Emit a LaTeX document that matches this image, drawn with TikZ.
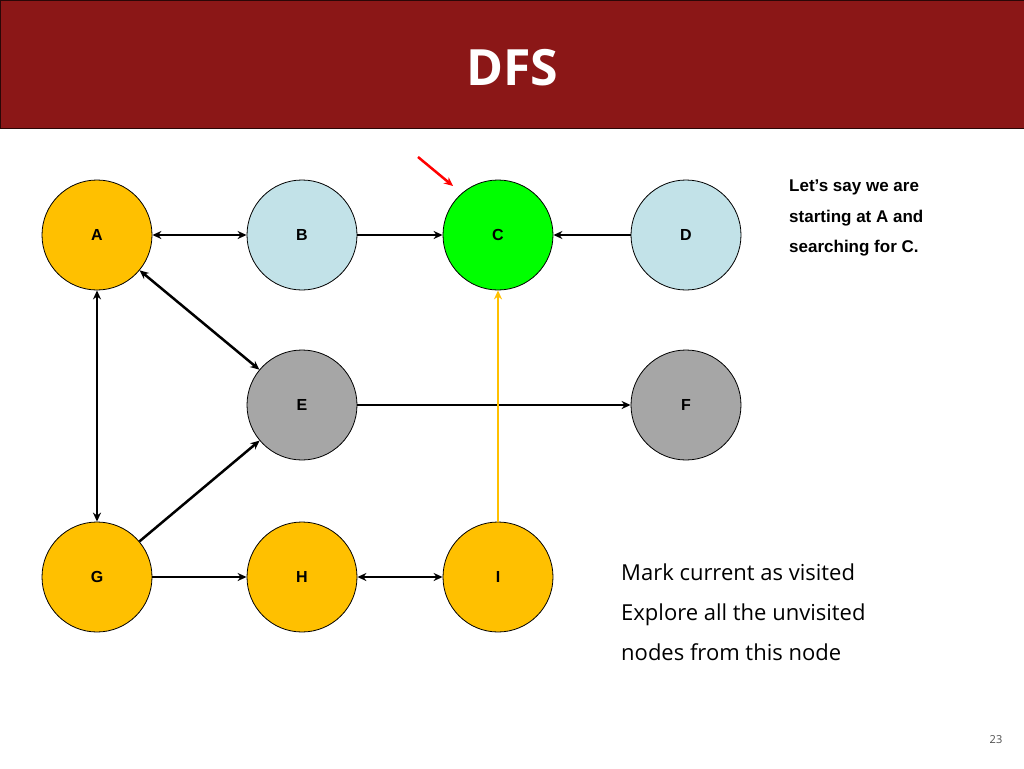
\documentclass[tikz,border=0pt]{standalone}
\usepackage{fontspec}
\setmainfont{Open Sans}
\newfontfamily\arial{Liberation Sans}
\usetikzlibrary{arrows.meta}
\definecolor{bar}{HTML}{8B1717}
\definecolor{org}{HTML}{FFC000}
\definecolor{lb}{HTML}{C2E2E8}
\definecolor{gr}{HTML}{A6A6A6}
\begin{document}
\begin{tikzpicture}[x=1pt,y=-1pt,
  nd/.style={circle,draw=black,line width=0.8pt,minimum size=110pt,inner sep=0pt,font=\arial\bfseries\fontsize{16}{18}\selectfont},
  ed/.style={line width=2.5pt,-{Stealth[length=9pt,width=8pt]}},
  bi/.style={line width=2.5pt,{Stealth[length=9pt,width=8pt]}-{Stealth[length=9pt,width=8pt]}}]
\useasboundingbox (0,0) rectangle (1024,768);
\fill[white] (0,0) rectangle (1024,768);
\draw[fill=bar,draw=black!70!bar,line width=0.8pt] (0,0) rectangle (1024,128);
\node[text=white,font=\bfseries\fontsize{50}{56}\selectfont] (t) at (512,68) {DFS};
\node[nd,fill=org] (A) at (97,235) {A};
\node[nd,fill=lb] (B) at (302,235) {B};
\node[nd,fill=green] (C) at (498,235) {C};
\node[nd,fill=lb] (D) at (686,235) {D};
\node[nd,fill=gr] (E) at (302,405) {E};
\node[nd,fill=gr] (F) at (686,405) {F};
\node[nd,fill=org] (G) at (97,577) {G};
\node[nd,fill=org] (H) at (302,577) {H};
\node[nd,fill=org] (I) at (498,577) {I};
\draw[bi] (A) -- (B);
\draw[ed] (B) -- (C);
\draw[ed] (D) -- (C);
\draw[bi] (A) -- (E);
\draw[ed] (E) -- (F);
\draw[bi] (A) -- (G);
\draw[ed] (G) -- (E);
\draw[ed] (G) -- (H);
\draw[bi] (H) -- (I);
\draw[ed,draw=org] (I) -- (C);
\coordinate (r1) at (418,157);
\coordinate (r2) at (453,186);
\draw[red,line width=2.5pt,-{Stealth[length=9pt,width=8pt]}] (r1) -- (r2);
\node[anchor=north west,align=left,font=\arial\bfseries\fontsize{17}{30.5}\selectfont,inner sep=0pt] (txt) at (789,180) {Let’s say we are\\starting at A and\\searching for C.};
\node[anchor=west,font=\fontsize{22}{26}\selectfont,inner sep=0pt] (m1) at (621,572) {Mark current as visited};
\node[anchor=north west,align=left,font=\fontsize{22}{40}\selectfont,inner sep=0pt] (m2) at (621,604) {Explore all the unvisited\\nodes from this node};
\node[text=black!70,font=\fontsize{11}{13}\selectfont] (p) at (996,740) {23};
\end{tikzpicture}
\end{document}
